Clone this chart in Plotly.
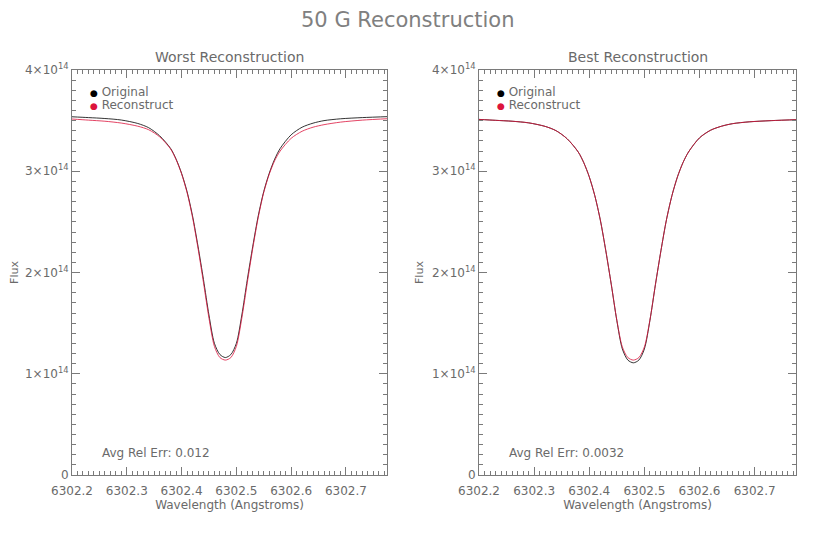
import plotly.graph_objects as go

# Wavelength grid (Angstroms)
wavelength = [6302.200, 6302.230, 6302.260, 6302.290, 6302.320, 6302.340, 6302.360,
              6302.380, 6302.390, 6302.400, 6302.410, 6302.420, 6302.430, 6302.440,
              6302.450, 6302.460, 6302.470, 6302.480, 6302.490, 6302.500, 6302.510,
              6302.520, 6302.530, 6302.540, 6302.550, 6302.560, 6302.570, 6302.580,
              6302.600, 6302.620, 6302.640, 6302.660, 6302.690, 6302.730, 6302.780]

# Flux values in units of 1e14
worst_original = [3.538, 3.530, 3.521, 3.506, 3.472, 3.430, 3.350,
                  3.225, 3.120, 2.980, 2.800, 2.560, 2.260, 1.930,
                  1.580, 1.300, 1.190, 1.160, 1.190, 1.300, 1.580,
                  1.930, 2.260, 2.560, 2.800, 2.980, 3.120, 3.225,
                  3.360, 3.435, 3.475, 3.500, 3.518, 3.530, 3.540]
worst_reconstruct = [3.516, 3.505, 3.494, 3.476, 3.445, 3.410, 3.340,
                     3.220, 3.115, 2.975, 2.790, 2.545, 2.240, 1.900,
                     1.550, 1.270, 1.160, 1.135, 1.160, 1.270, 1.550,
                     1.900, 2.240, 2.545, 2.790, 2.970, 3.105, 3.200,
                     3.325, 3.395, 3.435, 3.460, 3.485, 3.505, 3.520]
best_original = [3.512, 3.503, 3.494, 3.478, 3.443, 3.400, 3.320,
                 3.190, 3.085, 2.945, 2.760, 2.520, 2.215, 1.880,
                 1.525, 1.245, 1.135, 1.108, 1.135, 1.245, 1.525,
                 1.880, 2.215, 2.520, 2.760, 2.945, 3.085, 3.190,
                 3.330, 3.405, 3.445, 3.470, 3.488, 3.500, 3.510]
best_reconstruct = [3.512, 3.503, 3.494, 3.478, 3.443, 3.400, 3.320,
                    3.190, 3.085, 2.945, 2.760, 2.520, 2.215, 1.880,
                    1.530, 1.265, 1.160, 1.135, 1.160, 1.265, 1.530,
                    1.880, 2.215, 2.520, 2.760, 2.945, 3.085, 3.190,
                    3.330, 3.405, 3.445, 3.470, 3.488, 3.500, 3.510]

panel_titles = ["Worst Reconstruction", "Best Reconstruction"]
errors = ["Avg Rel Err: 0.012", "Avg Rel Err: 0.0032"]
x_tickvals = [6302.2, 6302.3, 6302.4, 6302.5, 6302.6, 6302.7]
x_ticktext = ["6302.2", "6302.3", "6302.4", "6302.5", "6302.6", "6302.7"]
y_tickvals = [0, 1e14, 2e14, 3e14, 4e14]
y_ticktext = ["0", "1×10<sup>14</sup>", "2×10<sup>14</sup>", "3×10<sup>14</sup>", "4×10<sup>14</sup>"]

FONT = "DejaVu Sans"
TXT = "#6a6a6a"
AX = "#7a7a7a"
ORIG_C = "#000000"
REC_C = "#dc143c"

W, H = 817, 545
OX, OY = 8, 8  # page body margin offset
panels = [(72 - OX, 387 - OX), (479 - OX, 796 - OX)]
y_top, y_bot = 70 - OY, 475 - OY

fig = go.Figure()
data = [(worst_original, worst_reconstruct), (best_original, best_reconstruct)]
for i, (orig, rec) in enumerate(data):
    xa = "x" if i == 0 else "x2"
    ya = "y" if i == 0 else "y2"
    fig.add_trace(go.Scatter(x=wavelength, y=[v * 1e14 for v in orig], mode="lines",
                             line=dict(color=ORIG_C, width=0.8, shape="spline", smoothing=0.8),
                             xaxis=xa, yaxis=ya, showlegend=False, name="Original"))
    fig.add_trace(go.Scatter(x=wavelength, y=[v * 1e14 for v in rec], mode="lines",
                             line=dict(color=REC_C, width=0.8, shape="spline", smoothing=0.8),
                             xaxis=xa, yaxis=ya, showlegend=False, name="Reconstruct"))

ydom = [1 - y_bot / H, 1 - y_top / H]
annotations = []
for i, (x0, x1) in enumerate(panels):
    xdom = [x0 / W, x1 / W]
    sfx = "" if i == 0 else "2"
    common_x = dict(domain=xdom, range=[6302.2, 6302.775], tickvals=x_tickvals, ticktext=x_ticktext,
                    ticks="inside", ticklen=8, tickcolor=AX, showline=True, linecolor=AX, linewidth=1,
                    mirror="allticks", showgrid=False, zeroline=False, automargin=False,
                    ticklabelstandoff=5,
                    tickfont=dict(family=FONT, size=12, color=TXT),
                    minor=dict(ticks="inside", ticklen=4, dtick=0.01, tick0=6302.2, tickcolor=AX, showgrid=False),
                    title=dict(text="Wavelength (Angstroms)", font=dict(family=FONT, size=12, color=TXT), standoff=3),
                    anchor="y" + sfx)
    common_y = dict(domain=ydom, range=[0, 4e14], tickvals=y_tickvals, ticktext=y_ticktext,
                    ticks="inside", ticklen=8, tickcolor=AX, showline=True, linecolor=AX, linewidth=1,
                    mirror="allticks", showgrid=False, zeroline=False, automargin=False,
                    tickfont=dict(family=FONT, size=12, color=TXT),
                    minor=dict(ticks="inside", ticklen=4, dtick=1e13, tick0=0, tickcolor=AX, showgrid=False),
                    title=dict(text="Flux", font=dict(family=FONT, size=11, color=TXT), standoff=6),
                    anchor="x" + sfx)
    fig.layout["xaxis" + sfx] = common_x
    fig.layout["yaxis" + sfx] = common_y

    xr = "x" + sfx + " domain"
    yr = "y" + sfx + " domain"
    annotations.append(dict(text=panel_titles[i], xref="paper", yref="paper",
                            x=(x0 + x1) / 2 / W, y=1 - (57 - OY) / H, xanchor="center", yanchor="middle",
                            showarrow=False, font=dict(family=FONT, size=14, color=TXT)))
    annotations.append(dict(text=f"<span style='color:{ORIG_C};font-size:9px'>●</span> Original", xref=xr, yref=yr,
                            x=16 / (x1 - x0), y=(y_bot - (92 - OY)) / (y_bot - y_top), xanchor="left", yanchor="middle",
                            showarrow=False, font=dict(family=FONT, size=12, color=TXT)))
    annotations.append(dict(text=f"<span style='color:{REC_C};font-size:9px'>●</span> Reconstruct", xref=xr, yref=yr,
                            x=16 / (x1 - x0), y=(y_bot - (105 - OY)) / (y_bot - y_top), xanchor="left", yanchor="middle",
                            showarrow=False, font=dict(family=FONT, size=12, color=TXT)))
    annotations.append(dict(text=errors[i], xref=xr, yref=yr,
                            x=28 / (x1 - x0), y=(y_bot - (453 - OY)) / (y_bot - y_top), xanchor="left", yanchor="middle",
                            showarrow=False, font=dict(family=FONT, size=12, color=TXT)))

annotations.append(dict(text="50 G Reconstruction", xref="paper", yref="paper", x=(408 - OX) / W, y=1 - (20 - OY) / H,
                        xanchor="center", yanchor="middle", showarrow=False,
                        font=dict(family=FONT, size=21, color="#808080")))

fig.update_layout(width=W, height=H, autosize=False, margin=dict(l=0, r=0, t=0, b=0),
                  paper_bgcolor="white", plot_bgcolor="white", annotations=annotations,
                  showlegend=False)

fig.write_html("out.html")
